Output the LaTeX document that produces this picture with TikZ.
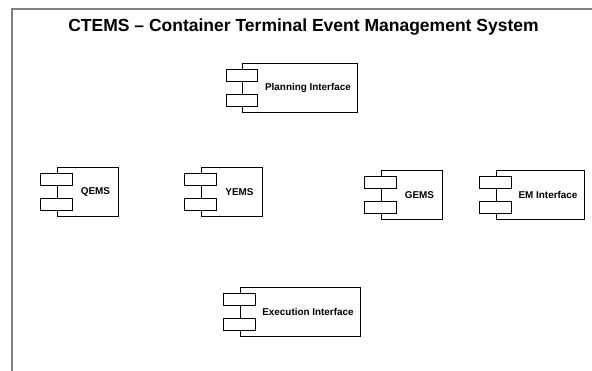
\documentclass[tikz,border=0pt]{standalone}
\usepackage{fontspec}
\setmainfont{Liberation Sans}

\tikzset{
	compbody/.style={draw, line width=0.9pt, minimum height=49.5pt, inner sep=0pt},
	compport/.style={draw, fill=white, line width=0.8pt, minimum width=31.5pt, minimum height=12pt, inner sep=0pt},
	complabel/.style={font=\bfseries\fontsize{9.9}{12}\selectfont, inner sep=0pt},
}

\begin{document}
\begin{tikzpicture}[y=-1pt, x=1pt]
	\useasboundingbox (0,0) rectangle (592,371);
	\draw[line width=1.2pt, color=gray] (12,371) |- (592,9);
	\node[font=\bfseries\fontsize{17.5}{21}\selectfont, inner sep=0pt] (title) at (303.5,27) {CTEMS -- Container Terminal Event Management System};
\foreach \n/\x/\y/\w/\t in {planning/300/87.75/115/Planning Interface, qems/87.5/192/61/QEMS, yems/231.5/192/61/YEMS, gems/411.5/194.75/61/GEMS, em/540/194.75/88/EM Interface, execution/300/312/120/Execution Interface} {
	\node[compbody, minimum width=\w pt] (\n) at (\x,\y) {};
	\node[compport] (\n-top) at ([yshift=12.5pt]\n.west) {};
	\node[compport] (\n-bottom) at ([yshift=-12.5pt]\n.west) {};
	\node[complabel] (\n-label) at ([xshift=8pt]\n.center) {\t};
}
\end{tikzpicture}
\end{document}
